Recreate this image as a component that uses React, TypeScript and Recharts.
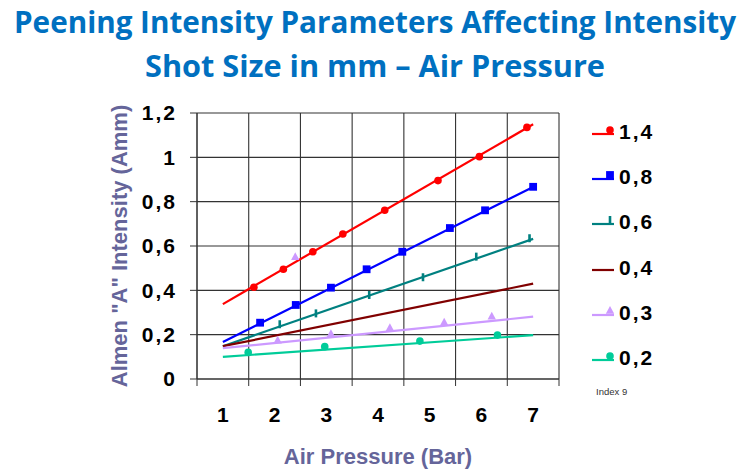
import React from "react";
import {
  ComposedChart, Line, Scatter, XAxis, YAxis, CartesianGrid, Legend,
} from "recharts";

// x categories (air pressure, bar) and y ticks (Almen A intensity)
const PRESSURES = [1, 2, 3, 4, 5, 6, 7];
const INTENSITY_TICKS = [0, 0.2, 0.4, 0.6, 0.8, 1, 1.2];

// shot sizes in mm
const SHOT_SIZES = ["1,4", "0,8", "0,6", "0,4", "0,3", "0,2"];

// fitted trend lines: value at 1 bar and at 7 bar
const FIT_AT_1 = [0.338, 0.167, 0.148, 0.148, 0.139, 0.1];
const FIT_AT_7 = [1.149, 0.866, 0.632, 0.43, 0.281, 0.198];

// measured points
const P14_X = [1.6, 2.17, 2.74, 3.32, 4.13, 5.16, 5.96, 6.88];
const P14_Y = [0.414, 0.495, 0.574, 0.654, 0.761, 0.895, 1.003, 1.135];
const P08_X = [1.72, 2.41, 3.09, 3.78, 4.47, 5.39, 6.07, 7.0];
const P08_Y = [0.254, 0.334, 0.412, 0.495, 0.574, 0.681, 0.761, 0.867];
const P06_X = [2.1, 2.8, 3.83, 4.87, 5.9, 6.93];
const P06_Y = [0.247, 0.296, 0.379, 0.459, 0.552, 0.635];
const P04_X: number[] = [];
const P04_Y: number[] = [];
const P03_X = [2.06, 2.4, 3.09, 4.23, 5.28, 6.2];
const P03_Y = [0.173, 0.549, 0.202, 0.229, 0.254, 0.281];
const P02_X = [1.49, 2.97, 4.81, 6.31];
const P02_Y = [0.12, 0.146, 0.171, 0.198];

const POINTS_X = [P14_X, P08_X, P06_X, P04_X, P03_X, P02_X];
const POINTS_Y = [P14_Y, P08_Y, P06_Y, P04_Y, P03_Y, P02_Y];

type MarkKind = "circle" | "square" | "dash" | "triangle" | "none";

const STYLE: { color: string; mark: MarkKind }[] = [
  { color: "#FF0000", mark: "circle" },
  { color: "#0000FF", mark: "square" },
  { color: "#008080", mark: "dash" },
  { color: "#800000", mark: "none" },
  { color: "#CC99FF", mark: "triangle" },
  { color: "#00CC99", mark: "circle" },
];

const AXIS_TITLE = "#65659A";
const GRID = "#333333";
const FONT = "'Liberation Sans', Arial, sans-serif";

const series = SHOT_SIZES.map((name, i) => ({
  name,
  ...STYLE[i],
  fit: [
    { x: PRESSURES[0], y: FIT_AT_1[i] },
    { x: PRESSURES[PRESSURES.length - 1], y: FIT_AT_7[i] },
  ],
  points: POINTS_X[i].map((x, j) => ({ x, y: POINTS_Y[i][j] })),
}));

// grid lines sit between the pressure labels
const gridTicks = [...PRESSURES.map((p) => p - 0.5), PRESSURES[PRESSURES.length - 1] + 0.5];
const xDomain = [gridTicks[0], gridTicks[gridTicks.length - 1]];

function Marker({ kind, cx, cy, color }: { kind: MarkKind; cx: number; cy: number; color: string }) {
  switch (kind) {
    case "circle":
      return <circle cx={cx} cy={cy} r={3.8} fill={color} />;
    case "square":
      return <rect x={cx - 3.9} y={cy - 3.9} width={7.8} height={7.8} fill={color} />;
    case "dash":
      return <rect x={cx - 1.3} y={cy - 4} width={2.6} height={8} fill={color} />;
    case "triangle":
      return (
        <polygon
          points={`${cx},${cy - 5} ${cx + 4.2},${cy + 2.8} ${cx - 4.2},${cy + 2.8}`}
          fill={color}
        />
      );
    default:
      return null;
  }
}

const fmt = (v: number) => String(v).replace(".", ",");

function LegendBox(props: any) {
  const names = (props.payload || [])
    .filter((p: any) => p.type !== "none")
    .map((p: any) => p.value);
  const items = series.filter((s) => names.includes(s.name));
  return (
    <div>
      {items.map((s) => (
        <div key={s.name} style={{ height: 45.3, display: "flex", alignItems: "center" }}>
          <svg width={26} height={20}>
            <line x1={0} y1={12} x2={22} y2={12} stroke={s.color} strokeWidth={2.2} />
            <Marker kind={s.mark} cx={18} cy={8} color={s.color} />
          </svg>
          <span
            style={{
              marginLeft: 1,
              fontFamily: FONT,
              fontWeight: 700,
              fontSize: 21,
              letterSpacing: 2,
              color: "#000",
            }}
          >
            {s.name}
          </span>
        </div>
      ))}
    </div>
  );
}

export default function App() {
  return (
    <div style={{ position: "absolute", left: 0, top: 0, width: 751, height: 473, background: "#fff", fontFamily: FONT }}>
      <ComposedChart
        width={751}
        height={473}
        margin={{ top: 113, right: 192, left: 107, bottom: 0 }}
      >
        <CartesianGrid stroke={GRID} strokeWidth={1.1} />
        <XAxis
          dataKey="x"
          type="number"
          domain={xDomain}
          ticks={gridTicks}
          tickFormatter={() => ""}
          height={8}
          tickSize={7}
          stroke={GRID}
          interval={0}
        />
        <XAxis
          xAxisId="labels"
          dataKey="x"
          type="number"
          domain={xDomain}
          ticks={PRESSURES}
          interval={0}
          height={86}
          axisLine={false}
          tickLine={false}
          tickSize={0}
          tickMargin={20}
          tick={{ fill: "#000", fontSize: 21, fontWeight: 700 }}
          label={{
            value: "Air Pressure (Bar)",
            position: "insideBottom",
            offset: 9,
            fill: AXIS_TITLE,
            fontSize: 22,
            fontWeight: 700,
          }}
        />
        <YAxis
          type="number"
          domain={[0, 1.2]}
          ticks={INTENSITY_TICKS}
          interval={0}
          width={90}
          tickSize={7}
          tickMargin={13}
          stroke={GRID}
          tickFormatter={fmt}
          tick={{ fill: "#000", fontSize: 21, fontWeight: 700, letterSpacing: 2 }}
          label={{
            value: 'Almen "A" Intensity (Amm)',
            angle: -90,
            position: "insideLeft",
            offset: 12,
            fill: AXIS_TITLE,
            fontSize: 22,
            fontWeight: 700,
            style: { textAnchor: "middle" },
          }}
        />
        {series.map((s) => (
          <Line
            key={"fit" + s.name}
            name={s.name}
            data={s.fit}
            dataKey="y"
            stroke={s.color}
            strokeWidth={2.2}
            dot={false}
            activeDot={false}
            isAnimationActive={false}
          />
        ))}
        {series.map((s) => (
          <Scatter
            key={"pts" + s.name}
            xAxisId="labels"
            name={s.name + " points"}
            data={s.points}
            dataKey="y"
            legendType="none"
            isAnimationActive={false}
            shape={(p: any) => <Marker kind={s.mark} cx={p.cx} cy={p.cy} color={s.color} />}
          />
        ))}
        <Legend
          layout="horizontal"
          verticalAlign="middle"
          align="center"
          content={<LegendBox />}
          wrapperStyle={{ left: 592, top: 109, width: 150, height: 280 }}
        />
      </ComposedChart>

      <svg
        width={751}
        height={100}
        style={{ position: "absolute", left: 0, top: 0, pointerEvents: "none" }}
      >
        <text
          x={375}
          y={33}
          textAnchor="middle"
          fill="#0070C0"
          fontFamily="'Open Sans', sans-serif"
          fontWeight={700}
          fontSize={30}
          textLength={722}
          lengthAdjust="spacingAndGlyphs"
        >
          Peening Intensity Parameters Affecting Intensity
        </text>
        <text
          x={375}
          y={77}
          textAnchor="middle"
          fill="#0070C0"
          fontFamily="'Open Sans', sans-serif"
          fontWeight={700}
          fontSize={30}
          textLength={460}
          lengthAdjust="spacingAndGlyphs"
        >
          Shot Size in mm – Air Pressure
        </text>
      </svg>
      <div
        style={{
          position: "absolute",
          left: 596,
          top: 386,
          fontFamily: FONT,
          fontSize: 9.5,
          color: "#333",
        }}
      >
        Index 9
      </div>
    </div>
  );
}
